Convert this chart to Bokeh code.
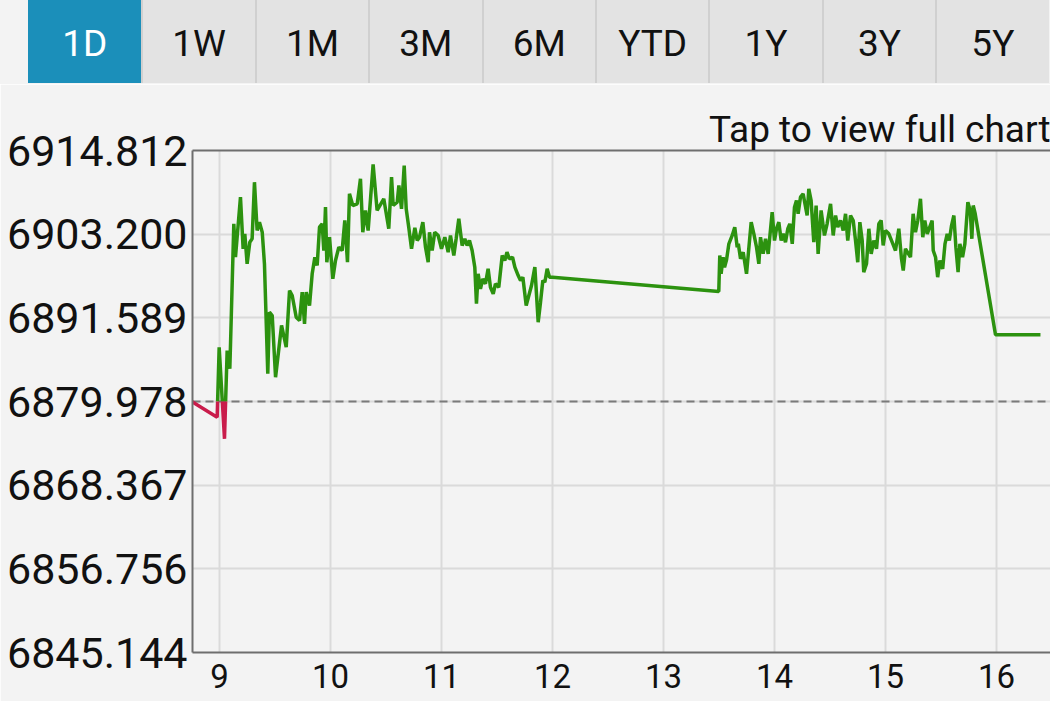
import numpy as np
from bokeh.plotting import figure
from bokeh.layouts import column
from bokeh.models import Range1d, FixedTicker, PrintfTickFormatter, LinearAxis, Span, Div
from bokeh.embed import file_html
from bokeh.resources import INLINE

# ---------------- data ----------------
tab_labels = ["1D", "1W", "1M", "3M", "6M", "YTD", "1Y", "3Y", "5Y"]
selected_tab = "1D"
chart_hint = "Tap to view full chart"

prev_close = 6879.978
y_ticks = [6845.144, 6856.756, 6868.367, 6879.978, 6891.589, 6903.200, 6914.812]
hour_ticks = [9, 10, 11, 12, 13, 14, 15, 16]

morning_time = [
    8.75, 8.979, 8.997, 9.045, 9.069, 9.093, 9.099, 9.129, 9.144, 9.189, 9.213, 9.228,
    9.249, 9.273, 9.294, 9.315, 9.339, 9.360, 9.385, 9.405, 9.435, 9.45, 9.475, 9.505,
    9.559, 9.601, 9.631, 9.655, 9.691, 9.721, 9.745, 9.766, 9.781, 9.811, 9.835, 9.859,
    9.880, 9.901, 9.925, 9.940, 9.955, 9.967, 9.991, 10.021, 10.045, 10.075, 10.105,
    10.129, 10.153, 10.171, 10.201, 10.241, 10.270, 10.291, 10.315, 10.339, 10.384,
    10.420, 10.480, 10.525, 10.550, 10.565, 10.601, 10.616, 10.640, 10.664, 10.682,
    10.705, 10.730, 10.760, 10.781, 10.802, 10.832, 10.856, 10.880, 10.892, 10.916,
    10.939, 10.970, 11.000, 11.030, 11.060, 11.081, 11.111, 11.132, 11.156, 11.186,
    11.210, 11.231, 11.252, 11.276, 11.300, 11.315, 11.330, 11.351, 11.372, 11.396,
    11.420, 11.441, 11.466, 11.486, 11.516, 11.547, 11.570, 11.590, 11.611, 11.640,
    11.661, 11.691, 11.712, 11.733, 11.763, 11.787, 11.811, 11.841, 11.871, 11.892,
    11.913, 11.931, 11.952, 11.973, 12.000,
]
morning_price = [
    6879.978, 6877.80, 6887.51, 6874.80, 6887.06, 6884.52, 6887.75, 6904.64, 6900.00,
    6908.33, 6901.17, 6903.25, 6899.09, 6902.09, 6902.56, 6910.41, 6903.71, 6904.86,
    6903.47, 6899.09, 6883.82, 6892.37, 6891.91, 6883.35, 6890.53, 6887.51, 6895.38,
    6894.69, 6891.68, 6891.22, 6895.15, 6890.76, 6895.15, 6893.30, 6897.70, 6900.00,
    6898.85, 6904.17, 6904.64, 6900.93, 6906.95, 6899.31, 6902.78, 6897.00, 6899.55,
    6901.39, 6900.93, 6905.10, 6899.31, 6908.80, 6907.18, 6907.41, 6910.88, 6903.47,
    6906.49, 6903.71, 6912.87, 6906.49, 6908.11, 6903.95, 6911.11, 6907.18, 6907.64,
    6909.95, 6906.72, 6912.73, 6906.72, 6904.17, 6901.17, 6904.08, 6902.32, 6902.78,
    6904.86, 6901.39, 6899.31, 6903.47, 6900.93, 6903.47, 6903.02, 6901.17, 6902.78,
    6900.70, 6903.02, 6900.24, 6902.56, 6905.33, 6901.63, 6902.56, 6901.63, 6902.32,
    6900.93, 6898.62, 6893.54, 6897.70, 6895.62, 6897.00, 6896.31, 6898.39, 6895.84,
    6894.92, 6896.31, 6895.84, 6900.24, 6899.55, 6900.70, 6899.78, 6900.00, 6898.62,
    6897.46, 6896.77, 6897.23, 6893.30, 6894.69, 6896.08, 6898.62, 6890.98, 6893.76,
    6896.77, 6896.53, 6898.39, 6897.23, 6897.23,
]

afternoon_time = [
    13.498, 13.507, 13.519, 13.537, 13.550, 13.568, 13.589, 13.619, 13.642, 13.664,
    13.674, 13.694, 13.718, 13.748, 13.790, 13.814, 13.838, 13.859, 13.874, 13.898,
    13.919, 13.943, 13.979, 14.000, 14.018, 14.039, 14.060, 14.078, 14.099, 14.120,
    14.138, 14.160, 14.180, 14.198, 14.213, 14.234, 14.258, 14.294, 14.309, 14.330,
    14.354, 14.375, 14.393, 14.420, 14.450, 14.474, 14.505, 14.529, 14.550, 14.570,
    14.595, 14.619, 14.640, 14.660, 14.685, 14.709, 14.730, 14.750, 14.769, 14.790,
    14.804, 14.829, 14.850, 14.871, 14.895, 14.919, 14.940, 14.961, 14.979, 15.000,
    15.030, 15.060, 15.090, 15.120, 15.144, 15.160, 15.180, 15.225, 15.249, 15.270,
    15.291, 15.315, 15.336, 15.354, 15.376, 15.420, 15.430, 15.451, 15.470, 15.490,
    15.515, 15.536, 15.556, 15.575, 15.595, 15.616, 15.634, 15.654, 15.670, 15.694,
    15.715, 15.742, 15.763, 15.778, 15.790, 15.808, 15.991, 16.396,
]
afternoon_price = [
    6895.24, 6900.24, 6897.70, 6900.00, 6898.62, 6899.64, 6901.86, 6903.02, 6904.17,
    6901.39, 6901.86, 6899.78, 6900.70, 6897.70, 6904.86, 6903.25, 6901.39, 6899.09,
    6902.78, 6900.47, 6902.56, 6900.47, 6906.25, 6902.32, 6903.95, 6904.86, 6902.32,
    6903.25, 6902.09, 6903.95, 6904.64, 6901.86, 6906.95, 6907.87, 6906.03, 6908.33,
    6908.80, 6905.79, 6909.50, 6907.87, 6902.09, 6907.18, 6900.47, 6906.49, 6903.02,
    6904.64, 6907.41, 6903.02, 6905.79, 6904.17, 6905.10, 6903.71, 6906.03, 6902.32,
    6905.79, 6905.10, 6902.32, 6899.31, 6904.86, 6902.32, 6897.93, 6899.09, 6903.95,
    6900.47, 6902.32, 6901.17, 6904.64, 6905.10, 6901.63, 6903.71, 6903.25, 6902.09,
    6900.93, 6903.95, 6899.78, 6898.15, 6901.17, 6900.00, 6906.03, 6903.47, 6905.10,
    6908.11, 6902.78, 6905.10, 6903.25, 6905.10, 6900.93, 6900.00, 6897.23, 6899.55,
    6898.39, 6901.86, 6903.25, 6902.32, 6904.40, 6905.79, 6901.39, 6897.93, 6901.86,
    6900.00, 6901.86, 6907.64, 6906.49, 6902.56, 6907.18, 6906.03, 6889.23, 6889.23,
]

# ---------------- styling ----------------
BG = "#f3f3f3"
GREEN = "#2c920f"
RED = "#c91c4b"
AXIS = "#6e6e6e"
GRID = "#dadada"
FONT = "Roboto"
W, H = 1050, 701
TAB_H = 84

# split the series at the previous close so it can be coloured above/below
t = np.array(morning_time + afternoon_time, dtype=float)
v = np.array(morning_price + afternoon_price, dtype=float)
xs, ys = [t[0]], [v[0]]
for i in range(1, len(t)):
    a, b = v[i - 1] - prev_close, v[i] - prev_close
    if a * b < 0:
        f = a / (a - b)
        xs.append(t[i - 1] + f * (t[i] - t[i - 1]))
        ys.append(prev_close)
    xs.append(t[i])
    ys.append(v[i])
xs = np.array(xs)
ys = np.array(ys)
up = np.where(ys >= prev_close, ys, np.nan)
dn = np.where(ys <= prev_close, ys, np.nan)

# ---------------- tab bar (HTML) ----------------
tab_left, tab_w = 28.0, 113.4
parts = []
for i, lab in enumerate(tab_labels):
    sel = lab == selected_tab
    left = tab_left + tab_w * i
    border = "" if i == 0 else "border-left:2px solid #d0d0d0;"
    parts.append(
        f"<div style='position:absolute;left:{left:.1f}px;top:0;width:{tab_w:.1f}px;height:83px;"
        f"box-sizing:border-box;{border}background:{'#1b8fba' if sel else '#e3e3e3'};"
        f"color:{'#ffffff' if sel else '#111111'};font-family:Roboto,sans-serif;font-size:37px;"
        f"line-height:87px;text-align:center;overflow:hidden;'>{lab}</div>"
    )
tab_html = (f"<div style='position:relative;width:{W}px;height:{TAB_H}px;overflow:hidden;"
            f"background:{BG};margin:0;padding:0;'>" + "".join(parts) + "</div>")
tabs = Div(text=tab_html, width=W, height=TAB_H, margin=0,
           styles={"background-color": BG, "margin": "0", "padding": "0"})

# ---------------- main chart ----------------
p = figure(width=W, height=H - TAB_H,
           x_range=Range1d(8.7568, 16.4865), y_range=Range1d(y_ticks[0], y_ticks[-1]),
           output_backend="svg", toolbar_location=None,
           min_border_left=192, min_border_right=0, min_border_top=66, min_border_bottom=49,
           background_fill_color=BG, border_fill_color=BG, outline_line_color=None)

p.title.text = chart_hint
p.title.align = "right"
p.title.text_font = FONT
p.title.text_font_size = "37px"
p.title.text_font_style = "normal"
p.title.text_color = "#111111"
p.title.standoff = 0
p.title.offset = 0

p.xaxis.ticker = FixedTicker(ticks=hour_ticks)
p.yaxis.ticker = FixedTicker(ticks=y_ticks)
p.yaxis.formatter = PrintfTickFormatter(format="%.3f")
for ax in (p.xaxis[0], p.yaxis[0]):
    ax.axis_line_color = AXIS
    ax.axis_line_width = 2
    ax.major_tick_line_color = None
    ax.minor_tick_line_color = None
    ax.major_tick_out = 0
    ax.major_tick_in = 0
    ax.minor_tick_out = 0
    ax.minor_tick_in = 0
    ax.major_label_text_font = FONT
    ax.major_label_text_color = "#111111"
p.xaxis.major_label_text_font_size = "33px"
p.xaxis.major_label_standoff = 11
p.yaxis.major_label_text_font_size = "43px"
p.yaxis.major_label_standoff = 5

top_axis = LinearAxis(ticker=FixedTicker(ticks=[]), axis_line_color=AXIS, axis_line_width=2,
                      major_tick_line_color=None, minor_tick_line_color=None,
                      major_tick_out=0, minor_tick_out=0, major_label_text_font_size="0px",
                      major_label_standoff=0)
p.add_layout(top_axis, "above")

p.xgrid.grid_line_color = GRID
p.ygrid.grid_line_color = GRID
p.xgrid.grid_line_width = 2
p.ygrid.grid_line_width = 2

p.add_layout(Span(location=prev_close, dimension="width", line_color="#7a7a7a",
                  line_dash="8 5", line_width=2, level="underlay"))

p.line(xs, up, line_color=GREEN, line_width=3.5)
p.line(xs, dn, line_color=RED, line_width=3.5)

layout = column(tabs, p, spacing=0)
open("out.html", "w").write(file_html(layout, INLINE))
